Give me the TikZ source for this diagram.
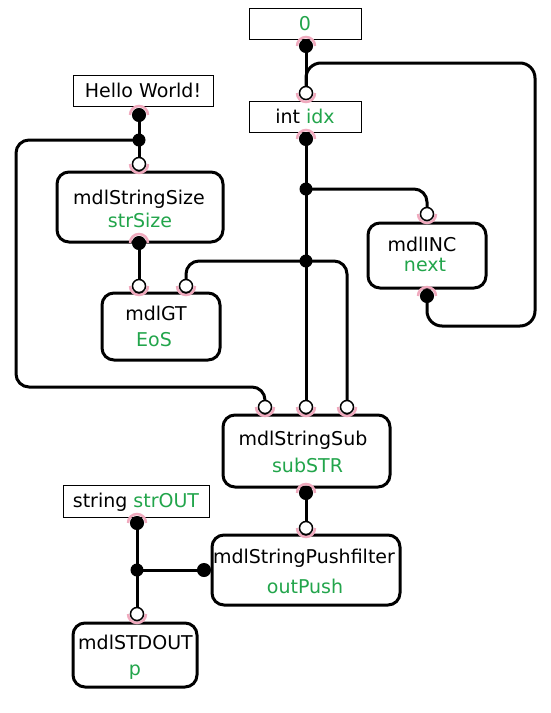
\documentclass[tikz,border=0pt]{standalone}
\usepackage{fontspec}
\setmainfont{DejaVu Sans}
\definecolor{grn}{RGB}{34,165,75}
\definecolor{pnk}{RGB}{240,170,190}
\begin{document}
\begin{tikzpicture}[x=1pt,y=-1pt,
  every node/.style={font=\fontsize{19}{22}\selectfont},
  valbox/.style 2 args={draw=black,line width=1pt,fill=white,minimum width=#1,minimum height=#2,inner sep=0,text height=13.5,text depth=0},
  modbox/.style 2 args={draw=black,line width=3pt,fill=white,rounded corners=12,minimum width=#1,minimum height=#2,inner sep=0},
  txt/.style={inner sep=0,text height=13.5,text depth=0},
  gtxt/.style={txt,text=grn},
  wire/.style={line width=3pt,rounded corners=13},
  pk/.style={draw=pnk,line width=2.5pt},
  outport/.style={circle,fill=black,draw=black,line width=1pt,minimum size=13,inner sep=0},
  inport/.style={circle,fill=white,draw=black,line width=1.5pt,minimum size=13,inner sep=0},
  dot/.style={circle,fill=black,minimum size=13,inner sep=0}]
\useasboundingbox (0,0) rectangle (551,713);
% value boxes
\node[valbox={112}{31}] (zero) at (305,23.5) {\textcolor{grn}{0}};
\node[valbox={112}{31}] (idx) at (305,116.5) {int \textcolor{grn}{idx}};
\node[valbox={140}{31}] (hello) at (143,90.5) {Hello World!};
\node[valbox={146}{32}] (strout) at (136,501) {string \textcolor{grn}{strOUT}};
% module boxes
\node[modbox={166}{70}] (ss) at (140,207) {};
\node[txt] (ssA) at (139,198) {mdlStringSize};
\node[gtxt] (ssB) at (140,221) {strSize};
\node[modbox={118}{67}] (gt) at (161,326.5) {};
\node[txt] (gtA) at (156,314) {mdlGT};
\node[gtxt] (gtB) at (154,340) {EoS};
\node[modbox={118}{65}] (inc) at (427,255.5) {};
\node[txt] (incA) at (422,245) {mdlINC};
\node[gtxt] (incB) at (425,265) {next};
\node[modbox={167}{72}] (sub) at (306.5,451) {};
\node[txt] (subA) at (303,439) {mdlStringSub};
\node[gtxt] (subB) at (307.5,466) {subSTR};
\node[modbox={188}{70}] (push) at (306,570) {};
\node[txt] (pushA) at (304,557) {mdlStringPushfilter};
\node[gtxt] (pushB) at (305,587) {outPush};
\node[modbox={124}{64}] (stdout) at (135,655) {};
\node[txt] (stdA) at (135.5,643) {mdlSTDOUT};
\node[gtxt] (stdB) at (135,669) {p};
% port coordinates
\coordinate (zeroO) at (306,46);
\coordinate (idxI) at (306,93);
\coordinate (idxO) at (306,139);
\coordinate (j1) at (306,189);
\coordinate (j2) at (306,261);
\coordinate (subI1) at (265,407);
\coordinate (subI2) at (306,407);
\coordinate (subI3) at (347,407);
\coordinate (subO) at (306,493);
\coordinate (pushI) at (306,528);
\coordinate (pushO) at (204,570);
\coordinate (j4) at (137,570);
\coordinate (stroutO) at (137,523);
\coordinate (stdI) at (137,614);
\coordinate (helloO) at (139,115);
\coordinate (j3) at (139,140);
\coordinate (ssI) at (139,164);
\coordinate (ssO) at (139,243);
\coordinate (gtI1) at (139,286);
\coordinate (gtI2) at (186,286);
\coordinate (incI) at (427,214);
\coordinate (incO) at (427,296);
% wires
\draw[wire] (zeroO) -- (idxI);
\draw[wire,rounded corners=15] (incO) |- (535,326) |- (306,63) -- (idxI);
\draw[wire] (idxO) -- (subI2);
\draw[wire] (j1) -| (incI);
\draw[wire] (j2) -| (gtI2);
\draw[wire] (j2) -| (subI3);
\draw[wire] (helloO) -- (ssI);
\draw[wire] (j3) -| (16,387) -| (subI1);
\draw[wire] (ssO) -- (gtI1);
\draw[wire] (subO) -- (pushI);
\draw[wire] (stroutO) -- (stdI);
\draw[wire] (j4) -- (pushO);
% pink arcs (y axis points down)
\foreach \p in {zeroO,idxO,helloO,ssO,subO,incO,stroutO}{
  \draw[pk] (\p) ++(9,0) arc (360:180:9);}
\foreach \p in {idxI,ssI,gtI1,gtI2,incI,subI1,subI2,subI3,pushI,stdI}{
  \draw[pk] (\p) ++(9,0) arc (0:180:9);}
% ports
\foreach \p in {zeroO,idxO,helloO,ssO,subO,incO,stroutO,pushO}{
  \node[outport] (\p P) at (\p) {};}
\foreach \p in {idxI,ssI,gtI1,gtI2,incI,subI1,subI2,subI3,pushI,stdI}{
  \node[inport] (\p P) at (\p) {};}
\foreach \p in {j1,j2,j3,j4}{
  \node[dot] (\p P) at (\p) {};}
\end{tikzpicture}
\end{document}
